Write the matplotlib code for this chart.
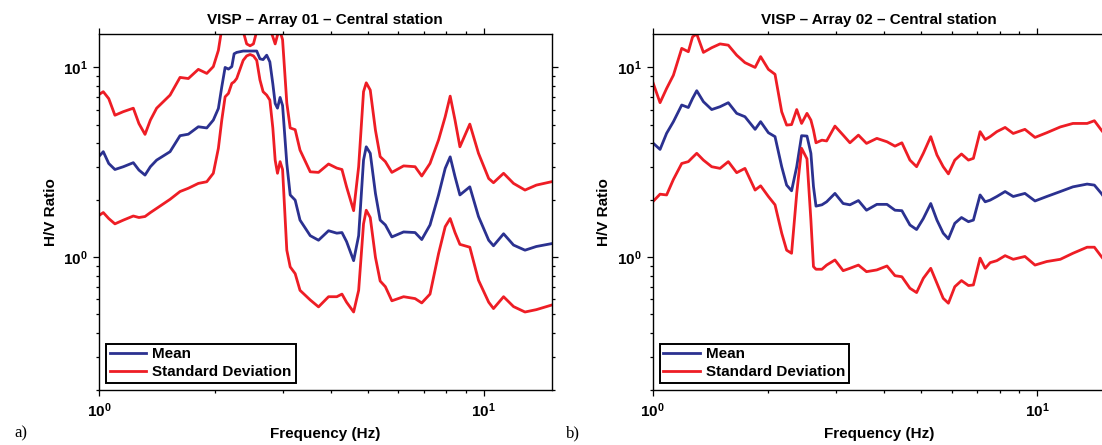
import numpy as np
import matplotlib
matplotlib.use('Agg')
import matplotlib.pyplot as plt
from matplotlib.ticker import FixedLocator, LogLocator, NullFormatter

# Panel a) - Array 01
freq_a = [1.00, 1.026, 1.06, 1.10, 1.157, 1.228, 1.27, 1.317, 1.36, 1.412, 1.53, 1.624, 1.707,
          1.812, 1.906, 1.982, 2.043, 2.085, 2.127, 2.17, 2.214, 2.245, 2.28, 2.37, 2.42, 2.47,
          2.52, 2.57, 2.62, 2.67, 2.728, 2.78, 2.83, 2.87, 2.91, 2.956, 3.00, 3.077, 3.14, 3.235,
          3.33, 3.54, 3.72, 3.95, 4.15, 4.28, 4.40, 4.59, 4.73, 4.87, 4.95, 5.07, 5.23, 5.38,
          5.55, 5.77, 6.19, 6.63, 6.90, 7.25, 7.63, 7.94, 8.18, 8.42, 8.67, 9.20, 9.69, 10.3,
          10.6, 11.26, 11.95, 12.8, 13.7, 15.0]
mean_a = [3.40, 3.60, 3.12, 2.90, 3.00, 3.15, 2.88, 2.71, 3.00, 3.25, 3.60, 4.37, 4.45,
          4.87, 4.80, 5.28, 6.08, 7.90, 10.0, 9.80, 10.1, 11.8, 12.0, 12.2, 12.2, 12.2,
          12.2, 12.2, 11.1, 11.0, 11.6, 10.7, 8.20, 6.46, 6.10, 6.95, 6.30, 3.12, 2.13, 2.00,
          1.57, 1.30, 1.23, 1.38, 1.34, 1.35, 1.21, 0.96, 1.30, 3.25, 3.82, 3.53, 2.17, 1.57,
          1.48, 1.28, 1.36, 1.35, 1.24, 1.48, 2.13, 2.94, 3.38, 2.66, 2.13, 2.35, 1.64, 1.23,
          1.15, 1.33, 1.16, 1.09, 1.14, 1.18]
upper_a = [7.20, 7.45, 6.85, 5.60, 5.85, 6.10, 5.06, 4.44, 5.28, 6.10, 7.15, 8.86, 8.74,
           9.77, 9.30, 10.1, 12.3, 16.0, 18.0, 20.0, 20.0, 20.0, 19.0, 15.5, 13.3, 13.0,
           13.3, 15.5, 18.0, 18.0, 17.0, 16.0, 14.5, 13.3, 14.8, 15.5, 14.0, 6.50, 4.80, 4.70,
           3.67, 2.82, 2.80, 3.10, 2.95, 2.90, 2.35, 1.76, 3.00, 7.45, 8.30, 7.60, 4.67, 3.39,
           3.19, 2.80, 3.03, 3.00, 2.68, 3.12, 4.15, 5.50, 7.06, 5.28, 3.82, 5.03, 3.53, 2.60,
           2.47, 2.77, 2.45, 2.26, 2.40, 2.50]
lower_a = [1.66, 1.72, 1.60, 1.50, 1.57, 1.65, 1.62, 1.64, 1.72, 1.81, 2.02, 2.22, 2.31,
           2.45, 2.50, 2.77, 3.75, 5.28, 7.00, 7.30, 8.24, 8.40, 8.75, 10.9, 11.5, 11.7,
           11.5, 10.9, 8.60, 7.45, 7.15, 6.73, 4.80, 3.25, 2.77, 3.19, 2.90, 1.09, 0.89, 0.82,
           0.67, 0.596, 0.548, 0.62, 0.62, 0.64, 0.58, 0.515, 0.67, 1.50, 1.77, 1.62, 1.00, 0.75,
           0.70, 0.59, 0.62, 0.606, 0.575, 0.64, 1.045, 1.45, 1.60, 1.35, 1.17, 1.13, 0.757, 0.58,
           0.537, 0.62, 0.55, 0.515, 0.53, 0.56]

# Panel b) - Array 02
freq_b = [1.000, 1.045, 1.087, 1.132, 1.19, 1.238, 1.27, 1.302, 1.355, 1.424, 1.497, 1.573,
          1.654, 1.738, 1.847, 1.909, 2.000, 2.081, 2.166, 2.231, 2.298, 2.37, 2.44, 2.52,
          2.58, 2.62, 2.66, 2.756, 2.835, 2.98, 3.13, 3.26, 3.43, 3.60, 3.83, 4.07, 4.27,
          4.45, 4.67, 4.86, 5.06, 5.29, 5.49, 5.70, 5.88, 6.11, 6.36, 6.63, 6.83, 7.11, 7.33,
          7.55, 7.86, 8.26, 8.67, 9.30, 9.88, 10.6, 11.5, 12.4, 13.5, 14.1, 14.7, 15.0]
mean_b = [4.01, 3.70, 4.50, 5.18, 6.34, 6.15, 6.87, 7.54, 6.60, 6.00, 6.21, 6.52,
          5.73, 5.50, 4.72, 5.18, 4.53, 4.32, 3.00, 2.40, 2.24, 3.00, 4.37, 4.35,
          3.53, 2.36, 1.86, 1.89, 1.96, 2.17, 1.92, 1.89, 1.99, 1.77, 1.90, 1.90, 1.77,
          1.76, 1.48, 1.40, 1.60, 1.92, 1.57, 1.34, 1.25, 1.51, 1.62, 1.54, 1.57, 2.13, 1.96,
          2.00, 2.09, 2.22, 2.09, 2.17, 1.98, 2.09, 2.22, 2.35, 2.43, 2.40, 2.17, 2.05]
upper_b = [8.40, 6.52, 7.75, 9.10, 12.6, 12.1, 14.5, 15.0, 12.0, 12.7, 13.3, 13.1,
           11.6, 10.6, 10.0, 11.4, 9.77, 9.20, 5.84, 4.97, 5.00, 6.00, 5.07, 5.73,
           5.28, 4.68, 4.01, 4.14, 4.10, 4.91, 4.40, 4.01, 4.40, 3.98, 4.23, 4.06, 3.85,
           4.01, 3.25, 3.00, 3.53, 4.32, 3.46, 3.00, 2.75, 3.25, 3.50, 3.25, 3.32, 4.59, 4.17,
           4.32, 4.59, 4.83, 4.49, 4.72, 4.28, 4.53, 4.86, 5.07, 5.07, 5.24, 4.68, 4.45]
lower_b = [1.96, 2.15, 2.13, 2.57, 3.12, 3.19, 3.36, 3.53, 3.25, 3.00, 2.94, 3.19,
           2.79, 2.94, 2.26, 2.38, 2.09, 1.89, 1.34, 1.09, 1.05, 2.17, 3.75, 3.30,
           1.57, 0.893, 0.865, 0.865, 0.91, 0.968, 0.85, 0.875, 0.91, 0.84, 0.858, 0.90, 0.80,
           0.79, 0.687, 0.652, 0.775, 0.875, 0.73, 0.608, 0.573, 0.70, 0.754, 0.71, 0.715, 0.99, 0.875,
           0.937, 0.96, 1.02, 0.976, 1.01, 0.91, 0.95, 0.976, 1.05, 1.13, 1.13, 1.01, 0.96]

titles = ['VISP \u2013 Array 01 \u2013 Central station', 'VISP \u2013 Array 02 \u2013 Central station']
panel_tags = ['a)', 'b)']
major_ticks = [1, 10]
tick_labels = [r'$\mathbf{10^{0}}$', r'$\mathbf{10^{1}}$']

BLUE = '#2b3190'
RED = '#ee1d25'

plt.rcParams['font.family'] = ['Liberation Sans', 'DejaVu Sans']
plt.rcParams['font.weight'] = 'bold'
plt.rcParams['mathtext.fontset'] = 'custom'
plt.rcParams['mathtext.rm'] = 'Liberation Sans:bold'
plt.rcParams['mathtext.bf'] = 'Liberation Sans:bold'

fig = plt.figure(figsize=(11.02, 4.45), dpi=100)
W, H = 1102.0, 445.0
ax_a = fig.add_axes([99 / W, 1 - 390 / H, 452.5 / W, 356 / H])
ax_b = fig.add_axes([652.7 / W, 1 - 390 / H, 452 / W, 356 / H])

data = [(ax_a, freq_a, mean_a, upper_a, lower_a), (ax_b, freq_b, mean_b, upper_b, lower_b)]

for i, (ax, f, m, up, lo) in enumerate(data):
    ax.plot(f, m, color=BLUE, lw=2.0, label='Mean', solid_joinstyle='round')
    ax.plot(f, up, color=RED, lw=2.0, label='Standard Deviation', solid_joinstyle='round')
    ax.plot(f, lo, color=RED, lw=2.0, solid_joinstyle='round')
    ax.set_xscale('log')
    ax.set_yscale('log')
    ax.set_xlim(1, 15)
    ax.set_ylim(0.2, 15)

    for axis in (ax.xaxis, ax.yaxis):
        axis.set_major_locator(FixedLocator(major_ticks))
        axis.set_minor_locator(LogLocator(base=10, subs=np.arange(2, 10)))
        axis.set_minor_formatter(NullFormatter())
    ax.set_xticklabels(tick_labels)
    ax.set_yticklabels(tick_labels)
    ax.tick_params(which='both', direction='out', top=True, right=True, width=0.9)
    ax.tick_params(which='major', length=4, labelsize=11, pad=4)
    ax.tick_params(which='minor', length=2.5)
    for sp in ax.spines.values():
        sp.set_linewidth(1.0)

    ax.set_title(titles[i], fontsize=11, fontweight='bold', pad=7)
    ax.set_xlabel('Frequency (Hz)', fontsize=11, fontweight='bold', labelpad=5)
    ax.set_ylabel('H/V Ratio', fontsize=11, fontweight='bold', labelpad=4)

    leg = ax.legend(loc='lower left', fontsize=11, handlelength=2.4, handletextpad=0.4,
                    borderpad=0.25, labelspacing=0.25, borderaxespad=0.45,
                    fancybox=False, framealpha=1, edgecolor='black')
    leg.get_frame().set_linewidth(1.4)
    for t in leg.get_texts():
        t.set_fontweight('bold')

fig.text(14 / W, 1 - 437 / H, panel_tags[0], fontsize=12, family='Liberation Serif',
         fontweight='normal', va='baseline')
fig.text(566 / W, 1 - 437 / H, panel_tags[1], fontsize=12, family='Liberation Serif',
         fontweight='normal', va='baseline')

fig.savefig('out.png', dpi=100)
